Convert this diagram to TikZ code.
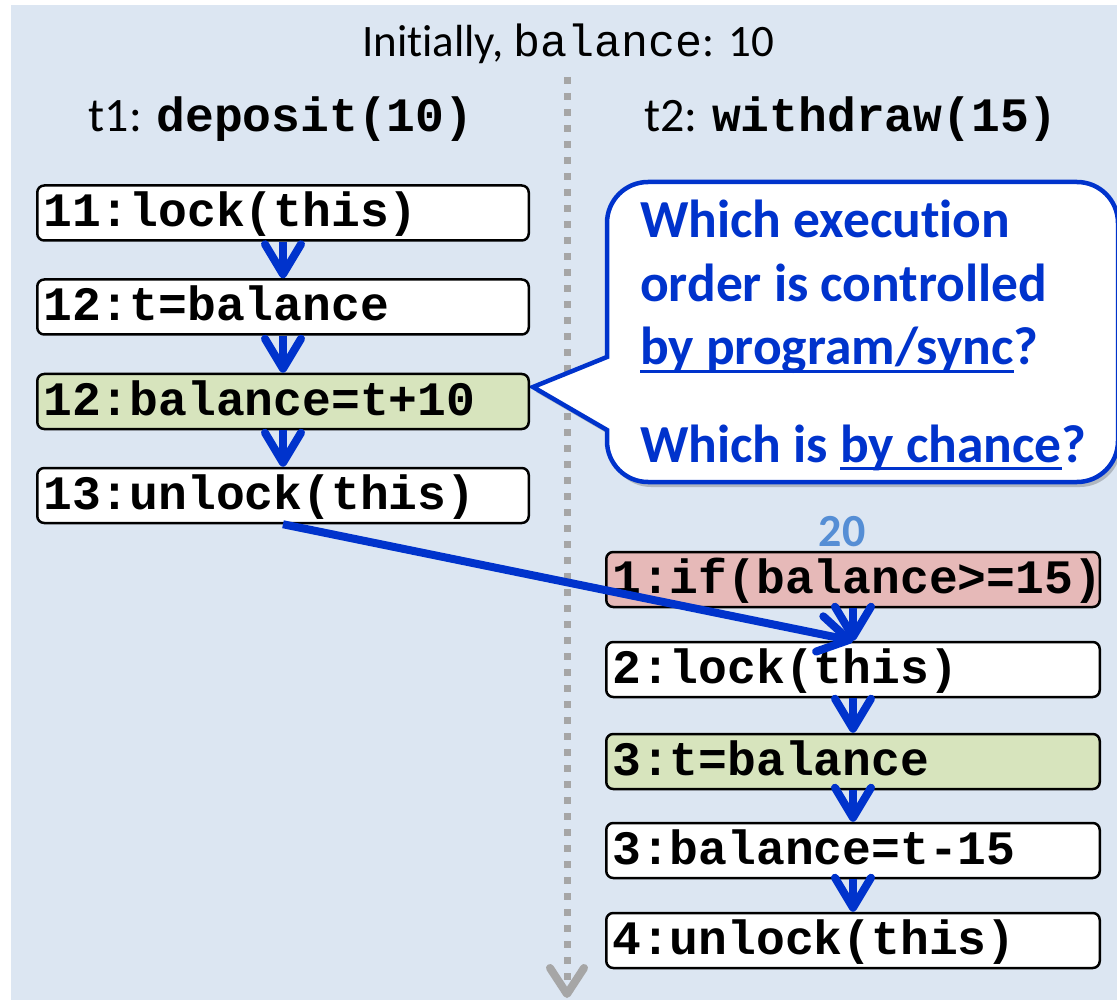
\documentclass[tikz,border=0pt]{standalone}
\usepackage{fontspec}
\setmainfont{Carlito}[Ligatures=NoCommon]
\newfontfamily\cour{Liberation Mono}
\usetikzlibrary{arrows.meta,shadows}
\definecolor{bg}{HTML}{DCE6F2}
\definecolor{myblue}{HTML}{0033CC}
\definecolor{lightgreen}{HTML}{D7E4BD}
\definecolor{pinkred}{HTML}{E6B9B8}
\definecolor{numblue}{HTML}{558ED5}
\definecolor{dashgray}{HTML}{A6A6A6}
\newcommand{\myul}[1]{\sbox0{#1}\rlap{\rule[-8pt]{\wd0}{2.6pt}}\usebox0}
\begin{document}
\begin{tikzpicture}[x=1pt,y=-1pt,
  codebox/.style={draw=black, fill=white, line width=2.5pt, rounded corners=7pt,
    minimum height=55pt, inner xsep=6pt, inner ysep=0pt, align=left,
    font=\cour\bfseries\fontsize{48}{50}\selectfont, text height=32pt, text depth=4pt},
  leftbox/.style={codebox, text width=479.5pt},
  rightbox/.style={codebox, text width=481.5pt},
  flow/.style={draw=myblue, line width=8pt, -{Straight Barb[length=30pt,width=36pt,round]}},
  timeline/.style={draw=dashgray, line width=7pt, dash pattern=on 7pt off 9pt,
    -{Straight Barb[length=26pt,width=34pt,round,line width=8pt]}},
  bubble/.style={draw=myblue, line width=4.5pt, fill=white,
    drop shadow={shadow xshift=3pt, shadow yshift=-5pt, opacity=0.3, fill=black!70}},
  qtext/.style={anchor=base west, inner sep=0pt, text=myblue,
    font=\bfseries\fontsize{53.5}{60}\selectfont},
  heading/.style={anchor=base, inner sep=0pt, text=black}
]
\useasboundingbox (0,0) rectangle (1117,1000);
\clip (0,0) rectangle (1117,1000);
\fill[bg] (11,5) rectangle (1117,1000);

% timeline
\coordinate (tlTop) at (567,77);
\coordinate (tlEnd) at (567,998);
\draw[timeline] (tlTop) -- (tlEnd);

% headings
\node[heading, font=\fontsize{45}{47}\selectfont] (title) at (568,57)
  {Initially, {\cour balance}: 10};
\node[heading, font=\fontsize{48}{50}\selectfont] (h1) at (281,132)
  {t1: {\cour\bfseries deposit(10)}};
\node[heading, font=\fontsize{48}{50}\selectfont] (h2) at (851,132)
  {t2: {\cour\bfseries withdraw(15)}};

% callout
\path[bubble] (607,357) [rounded corners=41pt] -- (607,182) -- (1118,182) -- (1118,482)
  -- (607,482) [sharp corners] -- (607,430) -- (533,387) -- cycle;
\node[qtext] (q1) at (640,238) {Which execution};
\node[qtext] (q2) at (640,302) {order is controlled};
\node[qtext] (q3) at (640,365) {\myul{by program/sync}?};
\node[qtext] (q4) at (640,462) {Which is \myul{by chance}?};

% thread 1
\node[leftbox] (a1) at (283,213) {11:lock(this)};
\node[leftbox] (a2) at (283,307) {12:t=balance};
\node[leftbox, fill=lightgreen] (a3) at (283,401.5) {12:balance=t+10};
\node[leftbox] (a4) at (283,495.5) {13:unlock(this)};

% thread 2
\node[heading, font=\bfseries\fontsize{46}{48}\selectfont, text=numblue] (v20) at (842,546) {20};
\node[rightbox, fill=pinkred] (b1) at (853,579.5) {1:if(balance>=15)};
\node[rightbox] (b2) at (853,669.5) {2:lock(this)};
\node[rightbox, fill=lightgreen] (b3) at (853,761.5) {3:t=balance};
\node[rightbox] (b4) at (853,850.5) {3:balance=t-15};
\node[rightbox] (b5) at (853,940.5) {4:unlock(this)};

% flow arrows
\draw[flow] (a1.south) -- (a2.north);
\draw[flow] (a2.south) -- (a3.north);
\draw[flow] (a3.south) -- (a4.north);
\draw[flow] (b1.south) -- (b2.north);
\draw[flow] (b2.south) -- (b3.north);
\draw[flow] (b3.south) -- (b4.north);
\draw[flow] (b4.south) -- (b5.north);
\draw[flow] (a4.south) -- (b2.north);
\end{tikzpicture}
\end{document}
